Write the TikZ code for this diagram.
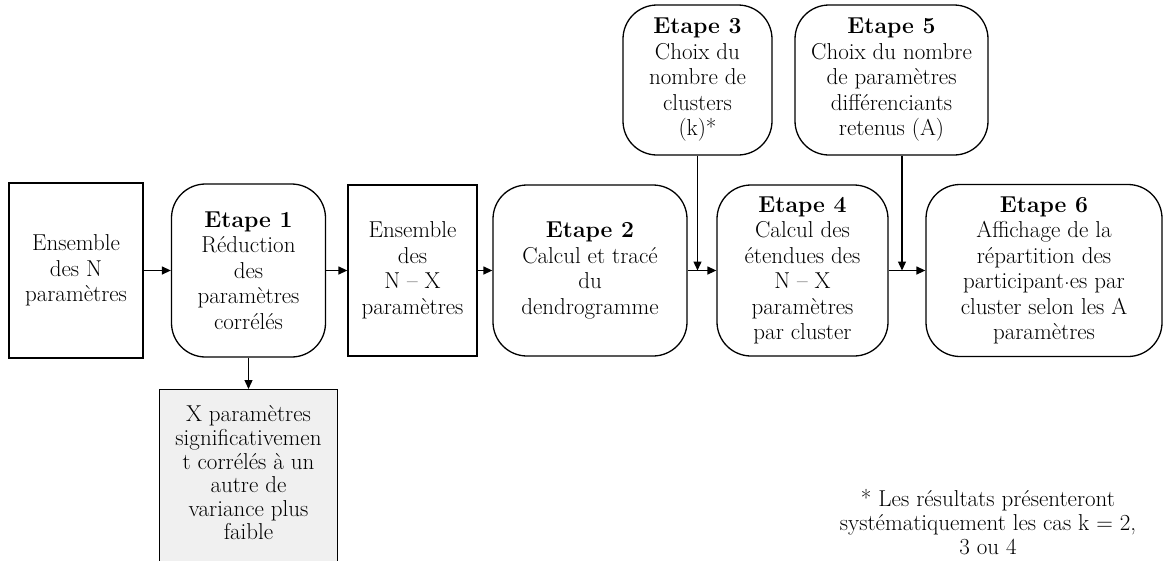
\documentclass[tikz,border=0pt]{standalone}
\usetikzlibrary{arrows.meta}
\begin{document}
\begin{tikzpicture}[x=1pt,y=-1pt,
  every node/.style={font=\fontsize{23}{25.5}\selectfont, align=center, inner sep=0pt},
  plainbox/.style={draw, line width=1.3pt, rectangle},
  stepbox/.style={draw, line width=1.3pt, rectangle, rounded corners=34pt},
  arr/.style={line width=1.3pt, -{Triangle[length=9pt,width=8pt]}},
  ln/.style={line width=1.3pt}]
\useasboundingbox (0,0) rectangle (1164,560);

% main row
\node[plainbox, minimum width=134pt, minimum height=175pt] (A) at (76,270.5)
  {Ensemble\\des N\\paramètres};
\node[stepbox, minimum width=154pt, minimum height=173pt] (E1) at (248.5,270.5)
  {\textbf{Etape 1}\\Réduction\\des\\paramètres\\corrélés};
\node[plainbox, minimum width=129pt, minimum height=171pt] (C) at (412.5,270.5)
  {Ensemble\\des\\N – X\\paramètres};
\node[stepbox, minimum width=194pt, minimum height=171pt] (E2) at (590,270.5)
  {\textbf{Etape 2}\\Calcul et tracé\\du\\dendrogramme};
\node[stepbox, minimum width=171pt, minimum height=171pt] (E4) at (802.5,270.5)
  {\textbf{Etape 4}\\Calcul des\\étendues des\\N – X\\paramètres\\par cluster};
\node[stepbox, minimum width=236pt, minimum height=172pt] (E6) at (1044,270.5)
  {\textbf{Etape 6}\\Affichage de la\\répartition des\\participant\raisebox{0.42ex}{.}es par\\cluster selon les A\\paramètres};

% top row
\node[stepbox, minimum width=149pt, minimum height=150pt] (E3) at (697.5,80)
  {\textbf{Etape 3}\\Choix du\\nombre de\\clusters\\(k)*};
\node[stepbox, minimum width=193pt, minimum height=150pt] (E5) at (891.5,80)
  {\textbf{Etape 5}\\Choix du nombre\\de paramètres\\différenciants\\retenus (A)};

% gray box
\node[plainbox, fill=black!6, minimum width=178pt, minimum height=190pt, anchor=north] (XB) at (248.5,389) {};
\node[font=\fontsize{23}{23.6}\selectfont] (X) at (248.5,473)
  {X paramètres\\significativemen\\t corrélés à un\\autre de\\variance plus\\faible};

% footnote
\node[font=\fontsize{23}{24}\selectfont] (note) at (988,522)
  {* Les résultats présenteront\\systématiquement les cas k = 2,\\3 ou 4};

% connectors
\draw[arr] (A.east) -- (E1.west);
\draw[arr] (E1.east) -- (C.west);
\draw[arr] (C.east) -- (E2.west);
\draw[arr] (E2.east) -- (E4.west);
\draw[arr] (E4.east) -- (E6.west);
\draw[arr] (E1.south) -- (XB.north);
\draw[arr] (E3.south) -- (E3.south |- E2.east);
\coordinate (e5x) at (902,0);
\draw[arr] (e5x |- E5.south) -- (e5x |- E4.east);
\end{tikzpicture}
\end{document}
